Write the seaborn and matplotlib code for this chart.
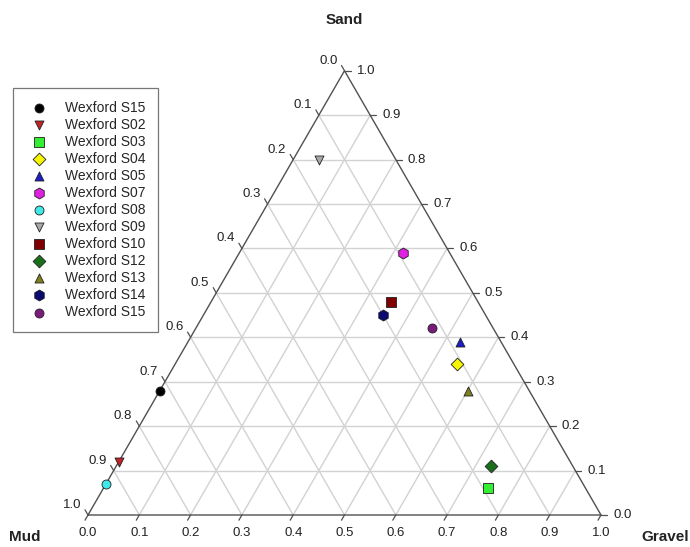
import numpy as np
import pandas as pd
import matplotlib
matplotlib.use("Agg")
import matplotlib.pyplot as plt
import seaborn as sns

# ---- data (fractions) ----
samples = ["Wexford S15", "Wexford S02", "Wexford S03", "Wexford S04", "Wexford S05",
           "Wexford S07", "Wexford S08", "Wexford S09", "Wexford S10", "Wexford S12",
           "Wexford S13", "Wexford S14", "Wexford S15"]
sand = [0.28, 0.12, 0.06, 0.34, 0.39, 0.59, 0.07, 0.80, 0.48, 0.11, 0.28, 0.45, 0.42]
gravel = [0.00, 0.00, 0.75, 0.55, 0.53, 0.32, 0.00, 0.05, 0.35, 0.73, 0.60, 0.35, 0.46]
mud = [round(1 - s - g, 2) for s, g in zip(sand, gravel)]
markers = ["o", "v", "s", "D", "^", "h", "o", "v", "s", "D", "^", "h", "o"]
colors = ["#000000", "#c0242a", "#33ee33", "#f5f500", "#1c1cc8", "#e020e0", "#40e8e8",
          "#a8a8a8", "#800000", "#1a701a", "#808020", "#0a0a70", "#7a1a7a"]
tick_vals = [0.0, 0.1, 0.2, 0.3, 0.4, 0.5, 0.6, 0.7, 0.8, 0.9, 1.0]
axis_titles = {"top": "Sand", "left": "Mud", "right": "Gravel"}

sns.set_style("white")
plt.rcParams["font.family"] = ["Liberation Sans", "DejaVu Sans"]

H = np.sqrt(3) / 2


def to_xy(s, g):
    s = np.asarray(s, dtype=float)
    g = np.asarray(g, dtype=float)
    return g + s / 2, s * H


W, Hpx = 690, 547
fig = plt.figure(figsize=(W / 100, Hpx / 100), dpi=100)
ax = fig.add_axes([0, 0, 1, 1])
side = 513.0
x0, ybase = 88.0, 515.0
ax.set_xlim(-x0 / side, (W - x0) / side)
ax.set_ylim(-(Hpx - ybase) / side, ybase / side)
ax.set_axis_off()

grid_c = "#d2d2d2"
edge_c = "#505050"

# grid lines
for v in tick_vals[1:-1]:
    # constant sand
    xa, ya = to_xy([v, v], [0, 1 - v])
    ax.plot(xa, ya, color=grid_c, lw=1.0, zorder=1)
    # constant gravel
    xa, ya = to_xy([0, 1 - v], [v, v])
    ax.plot(xa, ya, color=grid_c, lw=1.0, zorder=1)
    # constant mud
    xa, ya = to_xy([0, 1 - v], [1 - v, 0])
    ax.plot(xa, ya, color=grid_c, lw=1.0, zorder=1)

# triangle edges
xa, ya = to_xy([0, 0, 1, 0], [0, 1, 0, 0])
ax.plot(xa, ya, color=edge_c, lw=1.0, zorder=2)

tl = 6 / side
fs_tick = 9.5
for v in tick_vals:
    # bottom axis (gravel), tick down-left
    bx, by = to_xy(0, v)
    ax.plot([bx, bx - 0.5 * tl], [by, by - H * tl], color=edge_c, lw=0.9)
    ax.text(bx, by - 18 / side, f"{v:.1f}", ha="center", va="center", fontsize=fs_tick, color="#222222")
    # right axis (sand), tick to the right
    rx, ry = to_xy(v, 1 - v)
    ax.plot([rx, rx + tl], [ry, ry], color=edge_c, lw=0.9)
    ax.text(rx + 12 / side, ry, f"{v:.1f}", ha="left", va="center", fontsize=fs_tick, color="#222222")
    # left axis (mud), tick up-left
    lx, ly = to_xy(1 - v, 0)
    ax.plot([lx, lx - 0.5 * tl], [ly, ly + H * tl], color=edge_c, lw=0.9)
    ax.text(lx - 7 / side, ly + 10 / side, f"{v:.1f}", ha="right", va="center", fontsize=fs_tick, color="#222222")

# axis titles
tx, ty = to_xy(1, 0)
ax.text(tx, ty + 51 / side, axis_titles["top"], ha="center", va="center", fontsize=11, fontweight="bold", color="#222222")
ax.text(-63 / side, -22 / side, axis_titles["left"], ha="center", va="center", fontsize=11, fontweight="bold", color="#222222")
ax.text(1 + 64 / side, -22 / side, axis_titles["right"], ha="center", va="center", fontsize=11, fontweight="bold", color="#222222")

# points
df = pd.DataFrame({"sample": samples, "sand": sand, "gravel": gravel, "mud": mud})
df["x"], df["y"] = to_xy(df["sand"], df["gravel"])
for i, row in df.iterrows():
    size = 62 if markers[i] == "h" else 42
    sns.scatterplot(x=[row["x"]], y=[row["y"]], ax=ax, marker=markers[i], color=colors[i],
                    edgecolor="#202020", linewidth=0.6, s=size, label=row["sample"], zorder=5)

leg = ax.legend(loc="upper left", bbox_to_anchor=(13 / W, 1 - 88 / Hpx),
                bbox_transform=fig.transFigure, borderaxespad=0, frameon=True,
                fancybox=False, fontsize=10, labelspacing=0.22, handletextpad=0.95,
                borderpad=0.9, handlelength=1.9, markerscale=1.0)
leg.get_frame().set_edgecolor("#555555")
leg.get_frame().set_linewidth(0.9)

fig.savefig("out.png", dpi=100, facecolor="white")
